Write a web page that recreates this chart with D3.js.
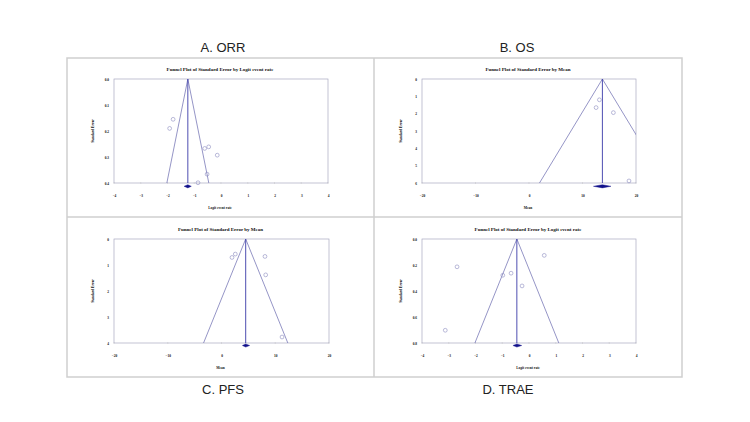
<!DOCTYPE html>
<html>
<head>
<meta charset="utf-8">
<script src="https://cdn.jsdelivr.net/npm/d3@7"></script>
<style>
  body { margin: 0; background: #fff; }
  svg { display: block; }
</style>
</head>
<body>
<svg id="chart"></svg>
<script>
// panel text
const panelLabels = ['A. ORR', 'B. OS', 'C. PFS', 'D. TRAE']
const plotTitles = [
  'Funnel Plot of Standard Error by Logit event rate',
  'Funnel Plot of Standard Error by Mean',
  'Funnel Plot of Standard Error by Mean',
  'Funnel Plot of Standard Error by Logit event rate'
]
const xLabels = ['Logit event rate', 'Mean', 'Mean', 'Logit event rate']

// tick values
const logitTicks = [-4, -3, -2, -1, 0, 1, 2, 3, 4]
const meanTicks = [-20, -10, 0, 10, 20]
const orrSeTicks = [0, 0.1, 0.2, 0.3, 0.4]
const osSeTicks = [0, 1, 2, 3, 4, 5, 6]
const pfsSeTicks = [0, 1, 2, 3, 4]
const traeSeTicks = [0, 0.2, 0.4, 0.6, 0.8]

// studies (effect, standard error)
const orrEffect = [-1.79, -1.92, -0.61, -0.46, -0.14, -0.52, -0.86]
const orrSE = [0.155, 0.19, 0.267, 0.261, 0.293, 0.366, 0.399]
const osEffect = [13.16, 12.54, 15.77, 18.69]
const osSE = [1.2, 1.65, 1.94, 5.88]
const pfsEffect = [1.95, 2.57, 8.09, 8.22, 11.26]
const pfsSE = [0.71, 0.58, 0.67, 1.38, 3.77]
const traeEffect = [-2.69, -3.13, -0.98, -0.67, -0.26, 0.57]
const traeSE = [0.214, 0.702, 0.279, 0.263, 0.361, 0.126]

// pooled estimate and its interval
const pooledMean = [-1.24, 13.72, 4.5, -0.454]
const pooledLow = [-1.38, 12.04, 3.88, -0.6]
const pooledHigh = [-1.11, 15.33, 5.24, -0.27]

const w = 750
const h = 422

const panels = [
  { box: [114, 79, 328, 183], xDomain: [-4, 4], xTicks: logitTicks, seTicks: orrSeTicks, fmt: d3.format('.1f'), x: orrEffect, se: orrSE, diaOff: 3.3 },
  { box: [422, 79, 636, 183], xDomain: [-20, 20], xTicks: meanTicks, seTicks: osSeTicks, fmt: d3.format('d'), x: osEffect, se: osSE, diaOff: 3.3 },
  { box: [114, 239, 329, 343], xDomain: [-20, 20], xTicks: meanTicks, seTicks: pfsSeTicks, fmt: d3.format('d'), x: pfsEffect, se: pfsSE, diaOff: 2.5 },
  { box: [422, 239, 636, 343], xDomain: [-4, 4], xTicks: logitTicks, seTicks: traeSeTicks, fmt: d3.format('.1f'), x: traeEffect, se: traeSE, diaOff: 2.5 }
]

let svg = d3.select('#chart').attr('width', w).attr('height', h)

// outer frame and dividers
const frame = svg.append('g').attr('stroke', '#cfcfcf').attr('stroke-width', 1.5).attr('fill', 'none')
frame.append('rect').attr('x', 67).attr('y', 58).attr('width', 615).attr('height', 319)
frame.append('line').attr('x1', 374).attr('x2', 374).attr('y1', 58).attr('y2', 377)
frame.append('line').attr('x1', 67).attr('x2', 682).attr('y1', 217).attr('y2', 217)

// panel captions
const captionPos = [[223, 52], [517, 52], [223, 394], [508, 394]]
svg.selectAll('.caption')
  .data(panelLabels)
  .enter()
  .append('text')
  .attr('class', 'caption')
  .attr('x', (d, i) => captionPos[i][0])
  .attr('y', (d, i) => captionPos[i][1])
  .attr('text-anchor', 'middle')
  .attr('font-family', 'Liberation Sans, Arial, sans-serif')
  .attr('font-size', 13)
  .attr('fill', '#222')
  .text(d => d)

const serif = 'Liberation Serif, Times New Roman, serif'

panels.forEach((p, i) => {
  const [x0, y0, x1, y1] = p.box
  const seMax = d3.max(p.seTicks)
  const xScale = d3.scaleLinear().domain(p.xDomain).range([x0, x1])
  const yScale = d3.scaleLinear().domain([0, seMax]).range([y0, y1])
  const g = svg.append('g')

  g.append('clipPath').attr('id', 'clip' + i)
    .append('rect').attr('x', x0).attr('y', y0).attr('width', x1 - x0).attr('height', y1 - y0)

  // title
  g.append('text')
    .attr('x', (x0 + x1) / 2 - 1)
    .attr('y', y0 - 8)
    .attr('text-anchor', 'middle')
    .attr('font-family', serif)
    .attr('font-weight', 'bold')
    .attr('font-size', 5)
    .attr('fill', '#111')
    .text(plotTitles[i])

  // plot frame
  g.append('rect')
    .attr('x', x0).attr('y', y0)
    .attr('width', x1 - x0).attr('height', y1 - y0)
    .attr('fill', 'none')
    .attr('stroke', '#a8a8c0')
    .attr('stroke-width', 0.7)

  // axes
  const xAxis = d3.axisBottom(xScale).tickValues(p.xTicks).tickSize(0).tickPadding(12).tickFormat(d3.format('d'))
  const gx = g.append('g').attr('transform', 'translate(0,' + y1 + ')').call(xAxis)
  const yAxis = d3.axisLeft(yScale).tickValues(p.seTicks).tickSize(0).tickPadding(5).tickFormat(p.fmt)
  const gy = g.append('g').attr('transform', 'translate(' + x0 + ',0)').call(yAxis)
  ;[gx, gy].forEach(a => {
    a.select('.domain').remove()
    a.selectAll('text')
      .attr('font-family', serif)
      .attr('font-weight', 'bold')
      .attr('font-size', 3.5)
      .attr('fill', '#111')
  })
  // small tick marks on the bottom axis
  g.selectAll('.xt')
    .data(p.xTicks)
    .enter()
    .append('line')
    .attr('x1', d => xScale(d)).attr('x2', d => xScale(d))
    .attr('y1', y1 - 0.6).attr('y2', y1 + 0.6)
    .attr('stroke', '#bbb').attr('stroke-width', 0.6)

  // axis labels
  g.append('text')
    .attr('x', (x0 + x1) / 2 - 1)
    .attr('y', y1 + 26)
    .attr('text-anchor', 'middle')
    .attr('font-family', serif)
    .attr('font-weight', 'bold')
    .attr('font-size', 3.5)
    .attr('fill', '#111')
    .text(xLabels[i])
  g.append('text')
    .attr('transform', 'translate(' + (x0 - 20) + ',' + ((y0 + y1) / 2) + ') rotate(-90)')
    .attr('text-anchor', 'middle')
    .attr('font-family', serif)
    .attr('font-weight', 'bold')
    .attr('font-size', 3.5)
    .attr('fill', '#111')
    .text('Standard Error')

  // funnel
  const m = pooledMean[i]
  const funnel = g.append('g').attr('clip-path', 'url(#clip' + i + ')')
  const lineGen = d3.line().x(d => xScale(d[0])).y(d => yScale(d[1]))
  funnel.append('path')
    .attr('d', lineGen([[m - 1.96 * seMax, seMax], [m, 0], [m + 1.96 * seMax, seMax]]))
    .attr('fill', 'none')
    .attr('stroke', '#7a7ab8')
    .attr('stroke-width', 0.8)
  funnel.append('path')
    .attr('d', lineGen([[m, 0], [m, seMax]]))
    .attr('stroke', '#3a3aa8')
    .attr('stroke-width', 0.9)

  // studies
  g.selectAll('.pt')
    .data(p.x.map((v, k) => [v, p.se[k]]))
    .enter()
    .append('circle')
    .attr('cx', d => xScale(d[0]))
    .attr('cy', d => yScale(d[1]))
    .attr('r', 1.9)
    .attr('fill', 'none')
    .attr('stroke', '#8c8cc0')
    .attr('stroke-width', 0.6)

  // pooled diamond
  const dy = y1 + p.diaOff
  const lo = xScale(pooledLow[i]), hi = xScale(pooledHigh[i]), mid = xScale(m)
  g.append('polygon')
    .attr('points', [[lo, dy], [mid, dy - 1.6], [hi, dy], [mid, dy + 1.6]].map(q => q.join(',')).join(' '))
    .attr('fill', '#12128c')
    .attr('stroke', '#12128c')
    .attr('stroke-width', 0.4)
})
</script>
</body>
</html>
